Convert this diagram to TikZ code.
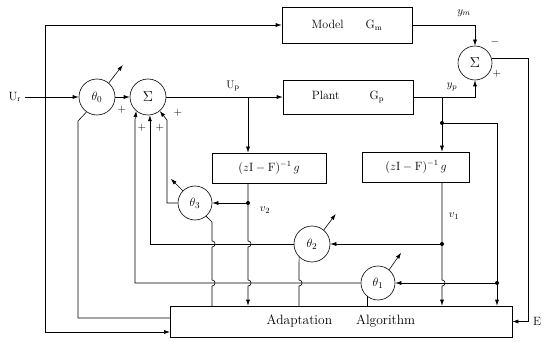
\documentclass[tikz,border=0pt]{standalone}
\usepackage{amsmath}
\usetikzlibrary{arrows.meta}
\tikzset{
  blk/.style={draw, minimum height=34pt, inner sep=0pt},
  sumnode/.style={draw, circle, minimum size=34pt, inner sep=0pt, font=\Large},
  gain/.style={draw, circle, minimum size=34pt, inner sep=0pt, font=\fontsize{13}{15}\selectfont},
  sig/.style={-{Latex[length=6pt,width=4pt]}},
  lbl/.style={inner sep=1pt, font=\fontsize{11}{13}\selectfont},
}

\begin{document}
\begin{tikzpicture}[x=1pt, y=-1pt, line width=0.6pt, font=\fontsize{12}{14}\selectfont]
    \useasboundingbox (0,0) rectangle (544,342);

    % Blocks
    \node[blk, minimum width=130pt, minimum height=36pt] (model) at (347,25) {Model\hspace{22pt}G$_\mathrm{m}$};
    \node[blk, minimum width=130pt] (plant) at (348,97) {Plant\hspace{30pt}G$_\mathrm{p}$};
    \node[blk, minimum width=114pt, minimum height=30pt] (filt2) at (269,168) {$(z\mathrm{I}-\mathrm{F})^{-1}\,g$};
    \node[blk, minimum width=107pt, minimum height=30pt] (filt1) at (416,167) {$(z\mathrm{I}-\mathrm{F})^{-1}\,g$};
    \node[blk, minimum width=342pt, minimum height=31pt, font=\fontsize{13.5}{16}\selectfont] (alg) at (341,321.5) {Adaptation\hspace{24pt}Algorithm};

    % Summers and gains
    \node[sumnode, minimum size=36pt] (sum1) at (148,97) {$\Sigma$};
    \node[sumnode] (sum2) at (475,63) {$\Sigma$};
    \node[gain, minimum size=36pt] (th0) at (97,97) {$\theta_0$};
    \node[gain] (th3) at (195,203) {$\theta_3$};
    \node[gain, minimum size=36pt] (th2) at (312,244) {$\theta_2$};
    \node[gain] (th1) at (378,283) {$\theta_1$};

    % Branch points
    \coordinate (ref) at (45,97);
    \coordinate (up) at (248,97);
    \coordinate (ypt) at (442,97);
    \coordinate (yq) at (442,123);
    \coordinate (v2) at (248,203);
    \coordinate (v1) at (442,244);
    \coordinate (yr) at (497,283);
    \coordinate (ecor) at (528,321.5);
    \coordinate (refend) at (170,332);
    \coordinate (t0end) at (170,318);

    % Reference input
    \node (ur) at (15,97) {U$_\mathrm{r}$};
    \draw[sig] (ur) -- (th0);
    \draw[sig] (ref) |- (model.west);
    \draw[sig] (ref) |- (refend);
    \draw[sig] (th0) -- (sum1);
    \draw (th0.-125) -- (78,121) |- (t0end);

    % Plant and model outputs
    \draw[sig] (sum1) -- (plant);
    \node[lbl] (uplbl) at (233,86) {U$_\mathrm{p}$};
    \draw[sig] (up) -- (up |- filt2.north);
    \draw[sig] (model.east) -| (sum2.north);
    \draw[sig] (plant.east) -| (sum2.south);
    \draw[sig] (sum2.15) -| (ecor) -- (alg.east);
    \node[lbl] (ymlbl) at (464,13) {$y_m$};
    \node[lbl] (yplbl) at (452,87) {$y_p$};
    \node[lbl] (minus) at (495,42) {$-$};
    \node[lbl] (plus5) at (497,74) {$+$};
    \node (elbl) at (537,321.5) {E};

    % Taps of the plant output
    \draw (ypt) -- (yq);
    \draw[sig] (yq) -- (yq |- filt1.north);
    \draw[sig] (yq) -| (yr |- alg.north);

    % Filter outputs (with hops)
    \draw[sig] (filt1.south -| v1) -- (v1) -- (442,280) .. controls (446,280) and (446,286) .. (442,286) -- (v1 |- alg.north);
    \draw[sig] (filt2.south -| v2) -- (v2) -- (248,241) .. controls (252,241) and (252,247) .. (248,247)
        -- (248,280) .. controls (252,280) and (252,286) .. (248,286) -- (v2 |- alg.north);
    \node[lbl] (v2lbl) at (265,210) {$v_2$};
    \node[lbl] (v1lbl) at (454,216) {$v_1$};

    % Gains fed back to the summer
    \draw[sig] (v2) -- (th3);
    \draw[sig] (v1) -- (th2);
    \draw[sig] (yr) -- (th1);
    \draw[sig] (th3.west) -| (167,120) -- (sum1.-50);
    \draw[sig] (th2.west) -| (sum1.-84);
    \draw[sig] (th1.west) -| (135,120) -- (sum1.-130);
    \node[lbl] (plus0) at (122,110) {$+$};
    \node[lbl] (plus1) at (142,128) {$+$};
    \node[lbl] (plus2) at (160,128) {$+$};
    \node[lbl] (plus3) at (178,113) {$+$};

    % Gain signals to the algorithm
    \draw (th3.-50) -- (212,222) -- (212,241) .. controls (216,241) and (216,247) .. (212,247)
        -- (212,280) .. controls (216,280) and (216,286) .. (212,286) -- (212,306);
    \draw (th2.-135) -- (299,280) .. controls (303,280) and (303,286) .. (299,286) -- (299,306);
    \draw (th1.-130) -- (th1.-130 |- alg.north);

    % Adjustment arrows
    \draw[sig] (th0.50) -- ++(14,-18);
    \draw[sig] (th3.135) -- ++(-12,-12);
    \draw[sig] (th2.50) -- ++(12,-16);
    \draw[sig] (th1.50) -- ++(12,-17);

    % Junction dots
    \fill (yq) circle (2);
    \fill (v2) circle (2);
    \fill (v1) circle (2);
    \fill (yr) circle (2);
\end{tikzpicture}
\end{document}
